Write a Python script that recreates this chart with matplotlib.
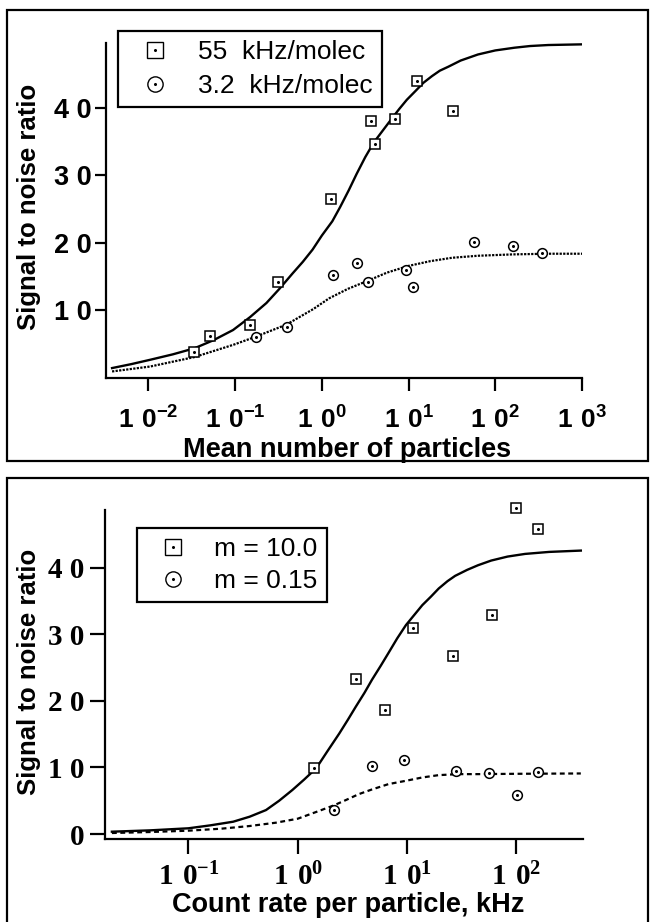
import numpy as np
import matplotlib
matplotlib.use("Agg")
import matplotlib.pyplot as plt
from matplotlib.patches import Rectangle
from matplotlib.lines import Line2D
from matplotlib.legend_handler import HandlerTuple
from matplotlib.ticker import FixedLocator, FixedFormatter, NullLocator

plt.rcParams['mathtext.fontset'] = 'custom'
plt.rcParams['mathtext.sf'] = 'Liberation Sans:bold'
plt.rcParams['mathtext.rm'] = 'Liberation Serif:bold'

# --- upper panel: SNR vs mean number of particles ---
top_sq_x = [0.0336, 0.0512, 0.150, 0.313, 1.29, 3.68, 4.11, 7.0, 12.4, 32.5]
top_sq_y = [3.8, 6.2, 7.9, 14.2, 26.5, 38.1, 34.6, 38.4, 43.9, 39.5]
top_ci_x = [0.173, 0.391, 1.36, 2.56, 3.41, 9.31, 11.2, 57.0, 161, 342]
top_ci_y = [6.0, 7.6, 15.3, 17.0, 14.2, 16.0, 13.5, 20.1, 19.5, 18.5]

# fitted curves (x as log10 of particle number)
top_fit55_logx = [-2.42, -2.2, -1.98, -1.72, -1.47, -1.25, -1.025, -0.83, -0.64, -0.49,
                  -0.337, -0.22, -0.108, 0.0, 0.12, 0.21, 0.31, 0.4, 0.5, 0.6,
                  0.7, 0.8, 0.89, 0.98, 1.08, 1.17, 1.27, 1.36, 1.46, 1.6,
                  1.8, 2.0, 2.22, 2.4, 2.61, 3.0]
top_fit55_y = [1.47, 2.05, 2.7, 3.5, 4.4, 5.6, 7.1, 9.0, 11.1, 13.2,
               15.5, 17.2, 19.0, 21.1, 23.2, 25.3, 27.8, 30.2, 32.7, 34.9,
               36.6, 38.3, 39.8, 41.2, 42.5, 43.7, 44.7, 45.5, 46.1, 47.0,
               47.9, 48.5, 48.9, 49.15, 49.3, 49.4]
top_fit32_logx = [-2.42, -1.98, -1.47, -1.025, -0.776, -0.41, -0.1, 0.084, 0.3,
                  0.53, 0.75, 1.0, 1.25, 1.5, 1.8, 2.2, 2.6, 3.0]
top_fit32_y = [0.97, 1.7, 3.1, 4.9, 6.05, 7.9, 10.2, 11.8, 13.2,
               14.4, 15.6, 16.6, 17.3, 17.8, 18.1, 18.3, 18.4, 18.4]

top_xticks = [1e-2, 1e-1, 1e0, 1e1, 1e2, 1e3]
top_xticklabels = [r'$\mathsf{1\ 0^{-2}}$', r'$\mathsf{1\ 0^{-1}}$', r'$\mathsf{1\ 0^{0}}$',
                   r'$\mathsf{1\ 0^{1}}$', r'$\mathsf{1\ 0^{2}}$', r'$\mathsf{1\ 0^{3}}$']
top_yticks = [10, 20, 30, 40]
top_yticklabels = ['1 0', '2 0', '3 0', '4 0']

# --- lower panel: SNR vs count rate per particle ---
bot_sq_x = [1.42, 3.43, 6.35, 11.3, 26.4, 59.8, 99.6, 157]
bot_sq_y = [9.9, 23.3, 18.7, 30.9, 26.8, 32.9, 49.0, 45.9]
bot_ci_x = [2.17, 4.80, 9.45, 28.0, 55.7, 101, 157]
bot_ci_y = [3.6, 10.2, 11.1, 9.4, 9.1, 5.9, 9.3]

bot_fit10_logx = [-1.70, -1.35, -1.0, -0.8, -0.59, -0.44, -0.29, -0.17, -0.05, 0.06,
                  0.17, 0.27, 0.38, 0.46, 0.53, 0.61, 0.68, 0.76, 0.83, 0.91,
                  0.99, 1.07, 1.14, 1.22, 1.29, 1.37, 1.44, 1.55, 1.65, 1.77,
                  1.92, 2.08, 2.3, 2.59]
bot_fit10_y = [0.35, 0.55, 0.86, 1.3, 1.85, 2.6, 3.6, 5.0, 6.6, 8.2,
               9.9, 12.4, 15.1, 17.2, 19.1, 21.2, 23.2, 25.3, 27.2, 29.4,
               31.4, 33.0, 34.4, 35.7, 36.9, 38.0, 38.8, 39.7, 40.4, 41.1,
               41.7, 42.1, 42.4, 42.6]
bot_fit015_logx = [-1.70, -1.35, -1.0, -0.7, -0.44, -0.2, 0.0, 0.2, 0.33, 0.44,
                   0.56, 0.68, 0.83, 0.99, 1.14, 1.29, 1.47, 1.65, 2.0, 2.59]
bot_fit015_y = [0.15, 0.3, 0.5, 0.8, 1.2, 1.7, 2.3, 3.5, 4.3, 5.1,
                6.0, 6.7, 7.5, 8.0, 8.5, 8.85, 9.0, 9.0, 9.05, 9.1]

bot_xticks = [1e-1, 1e0, 1e1, 1e2]
bot_xticklabels = [r'$\mathrm{1\ 0^{-1}}$', r'$\mathrm{1\ 0^{0}}$',
                   r'$\mathrm{1\ 0^{1}}$', r'$\mathrm{1\ 0^{2}}$']
bot_yticks = [0, 10, 20, 30, 40]
bot_yticklabels = ['0', '1 0', '2 0', '3 0', '4 0']

W, H = 654, 922
fig = plt.figure(figsize=(W / 100, H / 100), dpi=100)

# panel frames
fig.add_artist(Rectangle((7 / W, 1 - 461 / H), 641 / W, 451 / H, transform=fig.transFigure,
                         fill=False, lw=1.6, ec='black'))
fig.add_artist(Rectangle((7 / W, -0.05), 641 / W, 0.05 + 1 - 478 / H, transform=fig.transFigure,
                         fill=False, lw=1.6, ec='black'))


def points(ax, x, y, marker, ms):
    ax.plot(x, y, ls='none', marker=marker, ms=ms, mfc='white', mec='black', mew=1.1,
            clip_on=False, zorder=3)
    ax.plot(x, y, ls='none', marker='o', ms=1.2, color='black', clip_on=False, zorder=4)


def legend_handle(marker):
    big = Line2D([], [], ls='none', marker=marker, ms=11, mfc='white', mec='black', mew=1.0)
    dot = Line2D([], [], ls='none', marker='o', ms=1.2, color='black')
    return (big, dot)


def style_axes(ax, serif):
    for s in ['top', 'right']:
        ax.spines[s].set_visible(False)
    for s in ['left', 'bottom']:
        ax.spines[s].set_linewidth(1.6)
    ax.xaxis.set_minor_locator(NullLocator())
    ax.tick_params(axis='both', which='major', width=1.6, length=9, direction='out')
    fam = 'Liberation Serif' if serif else 'Liberation Sans'
    for lab in ax.get_yticklabels():
        lab.set_family(fam)
        lab.set_fontweight('bold')


# ----- top -----
ax1 = fig.add_axes([106 / W, 1 - 378 / H, 476 / W, 335 / H])
ax1.set_xscale('log')
ax1.plot(10 ** np.array(top_fit55_logx), top_fit55_y, color='black', lw=1.7)
ax1.plot(10 ** np.array(top_fit32_logx), top_fit32_y, color='black', lw=1.6, ls=(0, (1, 0.6)))
points(ax1, top_sq_x, top_sq_y, 's', 6.5)
points(ax1, top_ci_x, top_ci_y, 'o', 7)
ax1.set_xlim(10 ** -2.49, 1e3)
ax1.set_ylim(0, 49.6)
ax1.xaxis.set_major_locator(FixedLocator(top_xticks))
ax1.xaxis.set_major_formatter(FixedFormatter(top_xticklabels))
ax1.yaxis.set_major_locator(FixedLocator(top_yticks))
ax1.yaxis.set_major_formatter(FixedFormatter(top_yticklabels))
style_axes(ax1, serif=False)
ax1.tick_params(axis='x', labelsize=19, pad=12)
ax1.tick_params(axis='y', labelsize=19.5, pad=2, length=8)

leg1 = ax1.legend([legend_handle('s'), legend_handle('o')],
                  ['55  kHz/molec', '3.2  kHz/molec'],
                  handler_map={tuple: HandlerTuple(ndivide=1, pad=0)},
                  loc='upper left', bbox_to_anchor=(118 / W, 1 - 31 / H),
                  bbox_transform=fig.transFigure, frameon=True, fancybox=False,
                  framealpha=1, edgecolor='black', prop={'family': 'Liberation Sans', 'size': 19},
                  borderpad=0.35, handlelength=2.07, handletextpad=0.63, labelspacing=0.38,
                  borderaxespad=0)
leg1.get_frame().set_linewidth(1.6)

fig.text(29 / W, 1 - 207 / H, 'Signal to noise ratio', rotation=90, ha='center', va='center',
         fontsize=18.5, fontweight='bold', family='Liberation Sans')
fig.text(347 / W, 1 - 457 / H, 'Mean number of particles', ha='center', va='baseline',
         fontsize=19.5, fontweight='bold', family='Liberation Sans')

# ----- bottom -----
ax2 = fig.add_axes([105 / W, 1 - 839 / H, 478 / W, 329 / H])
ax2.set_xscale('log')
ax2.plot(10 ** np.array(bot_fit10_logx), bot_fit10_y, color='black', lw=1.7)
ax2.plot(10 ** np.array(bot_fit015_logx), bot_fit015_y, color='black', lw=1.6, ls=(0, (2.2, 1.6)))
points(ax2, bot_sq_x, bot_sq_y, 's', 6.5)
points(ax2, bot_ci_x, bot_ci_y, 'o', 7)
ax2.set_xlim(10 ** -1.763, 10 ** 2.61)
ax2.set_ylim(-0.75, 48.7)
ax2.xaxis.set_major_locator(FixedLocator(bot_xticks))
ax2.xaxis.set_major_formatter(FixedFormatter(bot_xticklabels))
ax2.yaxis.set_major_locator(FixedLocator(bot_yticks))
ax2.yaxis.set_major_formatter(FixedFormatter(bot_yticklabels))
style_axes(ax2, serif=True)
ax2.tick_params(axis='x', labelsize=21, pad=6, length=11)
ax2.tick_params(axis='y', labelsize=21, pad=4, length=11)

leg2 = ax2.legend([legend_handle('s'), legend_handle('o')],
                  ['m = 10.0', 'm = 0.15'],
                  handler_map={tuple: HandlerTuple(ndivide=1, pad=0)},
                  loc='upper left', bbox_to_anchor=(137 / W, 1 - 528 / H),
                  bbox_transform=fig.transFigure, frameon=True, fancybox=False,
                  framealpha=1, edgecolor='black', prop={'family': 'Liberation Sans', 'size': 19},
                  borderpad=0.35, handlelength=2.0, handletextpad=0.57, labelspacing=0.3,
                  borderaxespad=0)
leg2.get_frame().set_linewidth(1.6)

fig.text(29 / W, 1 - 672 / H, 'Signal to noise ratio', rotation=90, ha='center', va='center',
         fontsize=18.5, fontweight='bold', family='Liberation Sans')
fig.text(348 / W, 1 - 912 / H, 'Count rate per particle, kHz', ha='center', va='baseline',
         fontsize=19.5, fontweight='bold', family='Liberation Sans')

fig.savefig('out.png', dpi=100)
